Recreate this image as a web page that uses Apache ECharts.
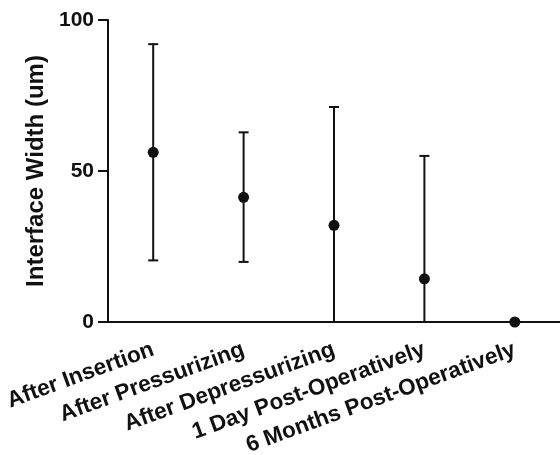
<!DOCTYPE html>
<html>
<head>
<meta charset="utf-8">
<script src="https://cdn.jsdelivr.net/npm/echarts@6/dist/echarts.min.js"></script>
<style>html,body{margin:0;padding:0;background:#fff;overflow:hidden;}#c{width:560px;height:455px;}</style>
</head>
<body>
<div id="c"></div>
<script>
var categories = ['After Insertion', 'After Pressurizing', 'After Depressurizing', '1 Day Post-Operatively', '6 Months Post-Operatively'];
var means = [56.2, 41.3, 32.0, 14.3, 0];
var upper = [92.0, 62.8, 71.2, 55.0, 0];
var lower = [20.4, 19.9, 0, 0, 0];
var yTicks = [0, 50, 100];

var chart = echarts.init(document.getElementById('c'), null, {renderer: 'canvas'});
var font = 'Liberation Sans, Arial, sans-serif';
var errData = categories.map(function (c, i) { return [i, lower[i], upper[i]]; });

chart.setOption({
  animation: false,
  grid: {left: 108, top: 20, right: 0, bottom: 133, containLabel: false, outerBoundsMode: 'none'},
  xAxis: {
    type: 'category',
    data: categories,
    boundaryGap: true,
    axisLine: {lineStyle: {color: '#111', width: 2}},
    axisTick: {alignWithLabel: true, length: 8, lineStyle: {color: '#111', width: 2}},
    axisLabel: {rotate: 20, interval: 0, margin: 27, color: '#111', fontFamily: font, fontWeight: 'bold', fontSize: 22.6}
  },
  yAxis: {
    type: 'value',
    min: 0, max: 100, interval: 50,
    name: 'Interface Width (um)',
    nameLocation: 'middle',
    nameGap: 58,
    nameTextStyle: {color: '#111', fontFamily: font, fontWeight: 'bold', fontSize: 24},
    axisLine: {show: true, lineStyle: {color: '#111', width: 2}},
    axisTick: {show: true, length: 10, lineStyle: {color: '#111', width: 2}},
    axisLabel: {margin: 14, color: '#111', fontFamily: font, fontWeight: 'bold', fontSize: 21,
      formatter: function (v) { return yTicks.indexOf(v) >= 0 ? String(v) : ''; }},
    splitLine: {show: false}
  },
  series: [
    {
      type: 'custom',
      data: errData,
      clip: false,
      renderItem: function (params, api) {
        var x = api.coord([api.value(0), 0])[0];
        var lo = api.coord([api.value(0), api.value(1)])[1];
        var hi = api.coord([api.value(0), api.value(2)])[1];
        var half = 5;
        var style = {stroke: '#111', lineWidth: 2, fill: null};
        var children = [
          {type: 'line', shape: {x1: x, y1: lo, x2: x, y2: hi}, style: style}
        ];
        if (api.value(2) > api.value(1)) {
          children.push({type: 'line', shape: {x1: x - half, y1: hi, x2: x + half, y2: hi}, style: style});
          if (api.value(1) > 0) {
            children.push({type: 'line', shape: {x1: x - half, y1: lo, x2: x + half, y2: lo}, style: style});
          }
        }
        return {type: 'group', children: children};
      },
      z: 2
    },
    {
      type: 'scatter',
      data: means,
      symbol: 'circle',
      symbolSize: 11,
      clip: false,
      itemStyle: {color: '#111', opacity: 1},
      z: 3
    }
  ]
});
</script>
</body>
</html>
